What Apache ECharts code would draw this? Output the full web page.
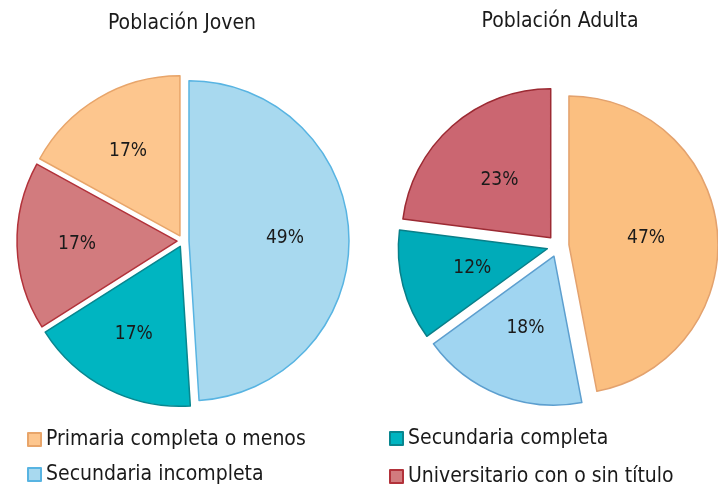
<!DOCTYPE html>
<html>
<head>
<meta charset="utf-8">
<script src="https://cdn.jsdelivr.net/npm/echarts@6/dist/echarts.min.js"></script>
<style>
  html, body { margin: 0; padding: 0; background: #fff; }
  #main { width: 718px; height: 493px; }
</style>
</head>
<body>
<div id="main"></div>
<script>
var categories = ['Primaria completa o menos', 'Secundaria incompleta', 'Secundaria completa', 'Universitario con o sin título'];
var titles = ['Población Joven', 'Población Adulta'];
// orden de las porciones en sentido horario desde las 12
var ordenJoven = ['Secundaria incompleta', 'Secundaria completa', 'Universitario con o sin título', 'Primaria completa o menos'];
var valoresJoven = [49, 17, 17, 17];
var ordenAdulta = ['Primaria completa o menos', 'Secundaria incompleta', 'Secundaria completa', 'Universitario con o sin título'];
var valoresAdulta = [47, 18, 12, 23];

var estilosJoven = {
    'Primaria completa o menos': { color: '#fdc68e', borderColor: '#e8a56a' },
    'Secundaria incompleta': { color: '#a8d9ef', borderColor: '#58b4e2' },
    'Secundaria completa': { color: '#00b5c1', borderColor: '#08868f' },
    'Universitario con o sin título': { color: '#d27b7e', borderColor: '#b2323a' }
};
var estilosAdulta = {
    'Primaria completa o menos': { color: '#fbbf80', borderColor: '#e3a26e' },
    'Secundaria incompleta': { color: '#a0d5f1', borderColor: '#5d9fcf' },
    'Secundaria completa': { color: '#00abb9', borderColor: '#087f89' },
    'Universitario con o sin título': { color: '#cb6671', borderColor: '#9c2a33' }
};

var fuente = '"DejaVu Sans Condensed", "DejaVu Sans", sans-serif';

function armarDatos(orden, valores, estilos, transparente) {
    return orden.map(function (n, i) {
        var e = estilos[n];
        return {
            name: n,
            value: valores[i],
            selected: true,
            itemStyle: transparente ? { color: 'transparent', borderWidth: 0 } :
                { color: e.color, borderColor: e.borderColor, borderWidth: 1.5 }
        };
    });
}

var myChart = echarts.init(document.getElementById('main'));
var option = {
    animation: false,
    title: [
        { text: titles[0], left: 177, top: 8, textAlign: 'center',
          textStyle: { fontFamily: fuente, fontSize: 21, fontWeight: 'normal', color: '#1a1a1a' } },
        { text: titles[1], left: 555, top: 6, textAlign: 'center',
          textStyle: { fontFamily: fuente, fontSize: 21, fontWeight: 'normal', color: '#1a1a1a' } }
    ],
    legend: [
        { data: categories.slice(0, 2), orient: 'vertical', left: 22, top: 424, height: 68, itemGap: 14,
          icon: 'rect', itemWidth: 13, itemHeight: 13, selectedMode: false,
          textStyle: { fontFamily: fuente, fontSize: 21, color: '#1a1a1a' } },
        { data: categories.slice(2, 4), orient: 'vertical', left: 384, top: 423, height: 70, itemGap: 17,
          icon: 'rect', itemWidth: 13, itemHeight: 13, selectedMode: false,
          textStyle: { fontFamily: fuente, fontSize: 21, color: '#1a1a1a' } }
    ],
    series: [
        {
            type: 'pie', name: titles[0], center: [183, 241], radius: [0, 160],
            startAngle: 90, clockwise: true, selectedMode: 'multiple', selectedOffset: 6,
            label: { show: false }, labelLine: { show: false }, silent: true,
            data: armarDatos(ordenJoven, valoresJoven, estilosJoven, false)
        },
        {
            type: 'pie', name: titles[1], center: [558, 246], radius: [0, 149],
            startAngle: 90, clockwise: true, selectedMode: 'multiple', selectedOffset: 11,
            label: { show: true, position: 'inside', formatter: '{c}%', fontFamily: fuente, fontSize: 19, color: '#1a1a1a' },
            labelLine: { show: false }, silent: true,
            data: armarDatos(ordenAdulta, valoresAdulta, estilosAdulta, false)
        },
        {
            // serie transparente solo para ubicar las etiquetas del gráfico joven
            type: 'pie', name: 'etiquetas', center: [181, 241], radius: [0, 190],
            startAngle: 90, clockwise: true, selectedMode: 'multiple', selectedOffset: 6,
            label: { show: true, position: 'inside', formatter: '{c}%', fontFamily: fuente, fontSize: 19, color: '#1a1a1a' },
            labelLine: { show: false }, silent: true,
            data: armarDatos(ordenJoven, valoresJoven, estilosJoven, true)
        }
    ]
};
myChart.setOption(option);
</script>
</body>
</html>
